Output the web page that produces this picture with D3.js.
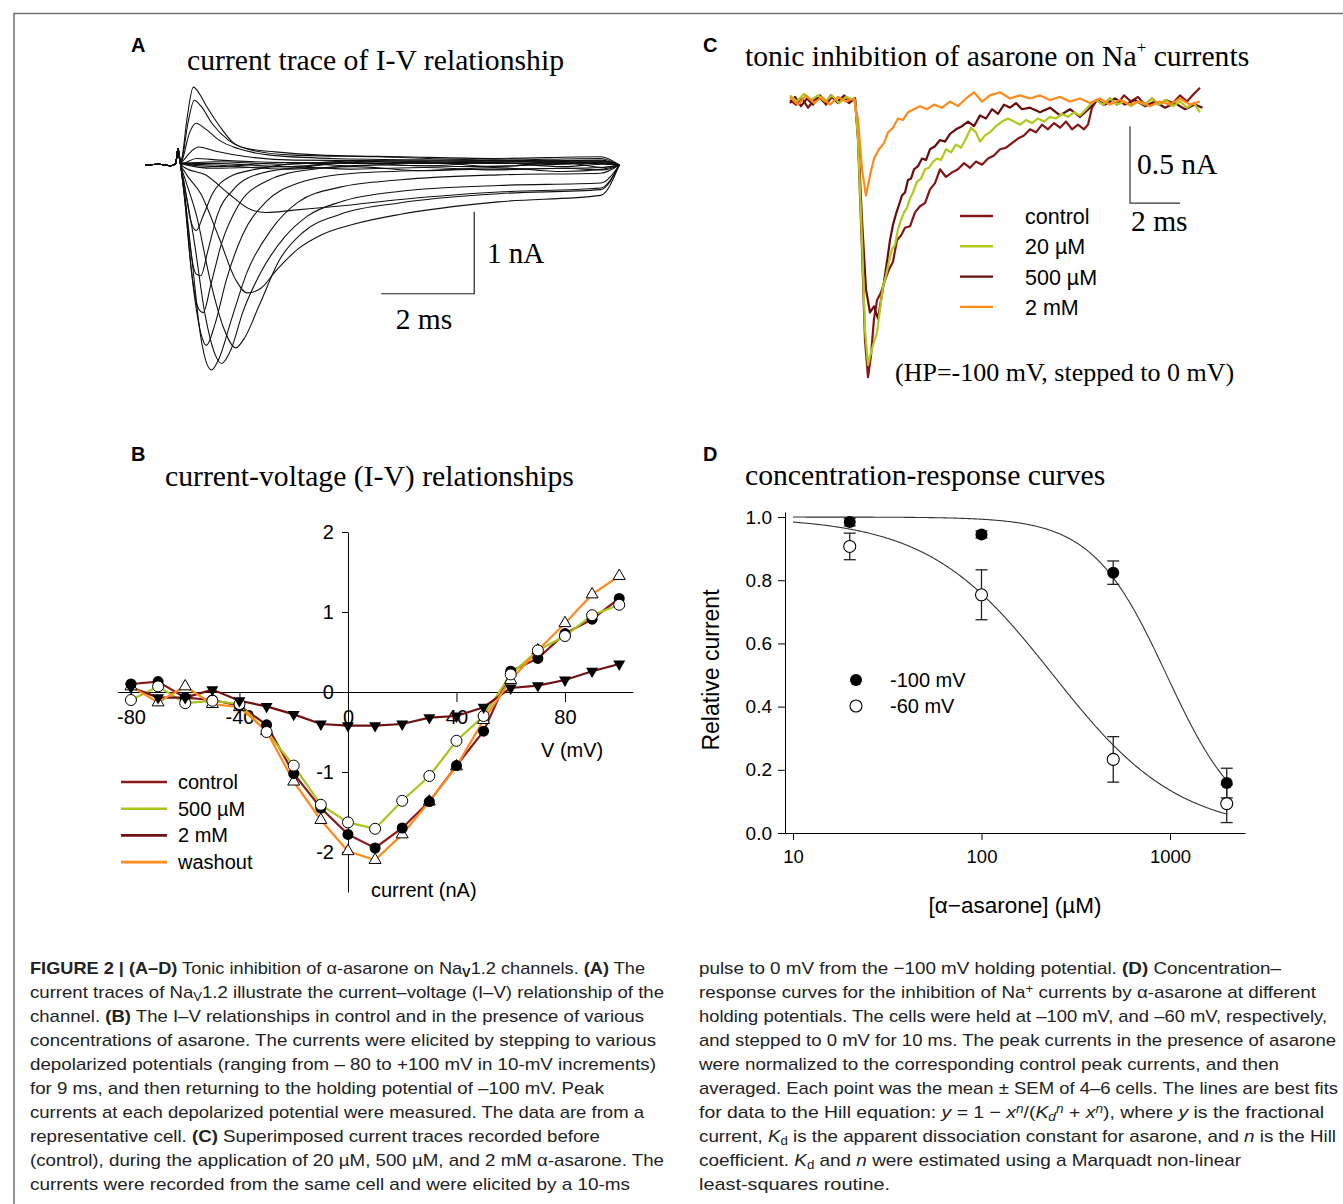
<!DOCTYPE html>
<html>
<head>
<meta charset="utf-8">
<script src="https://cdn.jsdelivr.net/npm/d3@7"></script>
<style>
  body { margin: 0; background: #fff; }
</style>
</head>
<body>
<svg id="fig" width="1343" height="1204"></svg>
<script>
const serif = "'Liberation Serif','Times New Roman',serif";
const sans = "'Liberation Sans',Arial,sans-serif";
const capFont = "'Liberation Sans Narrow','Arial Narrow','Liberation Sans',Arial,sans-serif";

// ---------- A: current sweeps, [ms, nA] ----------
const holdA = [[0, 0], [0.3, 0.01], [0.55, -0.01], [0.66, 0.02], [0.71, 0.2], [0.76, 0.02]];
const sweepsA = [
  // -80 .. -40 mV, no current
  [[1.5, 0.02], [3, -0.02], [4.5, 0.03], [6, -0.01], [7.5, 0.03], [9, -0.02], [9.85, 0.01], [10.2, 0]],
  [[1.5, -0.02], [3, 0.03], [4.5, -0.01], [6, 0.04], [7.5, -0.02], [9, 0.03], [9.85, -0.03], [10.2, 0]],
  [[1.5, 0.04], [3, 0.01], [4.5, 0.05], [6, 0.02], [7.5, 0.06], [9, 0.02], [9.85, 0.04], [10.2, 0]],
  [[1.5, -0.04], [3, -0.02], [4.5, -0.05], [6, -0.03], [7.5, -0.06], [9, -0.04], [9.85, -0.06], [10.2, 0]],
  [[1.5, 0.0], [3, -0.05], [4.5, -0.02], [6, -0.07], [7.5, -0.03], [9, -0.08], [9.85, -0.05], [10.2, 0]],
  // -30 mV
  [[0.85, -0.03], [1.3, -0.12], [1.8, -0.35], [2.3, -0.55], [2.6, -0.58], [3.2, -0.55], [4.2, -0.5], [5.5, -0.42], [7.6, -0.33], [9.8, -0.28], [10.2, 0]],
  // -20 mV
  [[0.85, -0.08], [1.2, -0.35], [1.6, -0.9], [1.95, -1.4], [2.2, -1.56], [2.5, -1.5], [2.8, -1.3], [3.3, -1.02], [3.8, -0.85], [4.5, -0.72], [5.5, -0.6], [7.6, -0.45], [9.8, -0.37], [10.2, 0]],
  // -10 mV
  [[0.85, -0.15], [1.1, -0.6], [1.4, -1.4], [1.7, -2.0], [1.95, -2.23], [2.15, -2.1], [2.45, -1.72], [2.9, -1.15], [3.4, -0.82], [4.2, -0.6], [5.5, -0.46], [7.6, -0.35], [9.8, -0.3], [10.2, 0]],
  // 0 mV
  [[0.85, -0.25], [1.05, -0.9], [1.3, -1.85], [1.5, -2.3], [1.65, -2.42], [1.85, -2.25], [2.1, -1.8], [2.5, -1.3], [3, -0.88], [3.5, -0.62], [4.2, -0.45], [5.5, -0.32], [7.6, -0.25], [9.8, -0.22], [10.2, 0]],
  // 10 mV
  [[0.85, -0.35], [1.0, -1.1], [1.2, -2.1], [1.43, -2.5], [1.6, -2.35], [1.85, -1.9], [2.2, -1.3], [2.7, -0.8], [3.3, -0.45], [4.2, -0.27], [5.5, -0.18], [7.6, -0.12], [9.8, -0.1], [10.2, 0]],
  // 20 mV
  [[0.85, -0.4], [1.0, -1.3], [1.2, -2.05], [1.32, -2.2], [1.5, -1.95], [1.75, -1.4], [2.1, -0.85], [2.6, -0.45], [3.3, -0.22], [4.5, -0.1], [6.5, -0.06], [9.8, -0.03], [10.2, 0]],
  // 30 mV
  [[0.85, -0.4], [1.0, -1.3], [1.15, -1.75], [1.25, -1.8], [1.42, -1.45], [1.65, -0.95], [2.0, -0.5], [2.6, -0.2], [3.5, -0.06], [5, 0], [7, -0.02], [9.8, 0.02], [10.2, 0]],
  // 40 mV
  [[0.85, -0.35], [0.97, -1.0], [1.1, -1.33], [1.2, -1.35], [1.35, -1.05], [1.55, -0.62], [1.9, -0.3], [2.5, -0.1], [3.5, -0.02], [5, 0.05], [7, 0.03], [9.8, 0.06], [10.2, 0]],
  // 50 mV
  [[0.85, -0.25], [0.97, -0.65], [1.1, -0.8], [1.25, -0.62], [1.45, -0.35], [1.8, -0.15], [2.4, -0.05], [3.5, 0.02], [5, 0.02], [7, 0.04], [9.8, 0.03], [10.2, 0]],
  // 60 .. 100 mV, outward
  [[0.8, 0.02], [1.1, 0.08], [1.6, 0.06], [3, 0.03], [6, 0.02], [9.8, 0.02], [10.2, 0]],
  [[0.8, 0.04], [1.0, 0.17], [1.15, 0.22], [1.5, 0.17], [2.2, 0.1], [3.2, 0.06], [6, 0.05], [9.8, 0.04], [10.2, 0]],
  [[0.8, 0.06], [0.95, 0.38], [1.1, 0.51], [1.3, 0.44], [1.6, 0.3], [2.0, 0.2], [2.7, 0.12], [4, 0.08], [6.5, 0.06], [9.8, 0.05], [10.2, 0]],
  [[0.8, 0.08], [0.92, 0.5], [1.06, 0.79], [1.2, 0.72], [1.45, 0.5], [1.8, 0.3], [2.3, 0.18], [3.2, 0.12], [5, 0.1], [7.5, 0.06], [9.8, 0.08], [10.2, 0]],
  [[0.8, 0.1], [0.9, 0.55], [1.04, 0.95], [1.18, 0.86], [1.33, 0.71], [1.61, 0.47], [1.9, 0.27], [2.2, 0.2], [2.8, 0.16], [3.8, 0.12], [5.5, 0.1], [7.5, 0.08], [9.8, 0.1], [10.2, 0]]
];
const barA = [7.08, -1.57];   // corner of the 2 ms / 1 nA bar

// ---------- C: currents at 0 mV, [ms, nA] ----------
const cControl = [[0, 0], [0.24, -0.03], [0.48, 0.01], [0.72, -0.05], [0.96, 0], [1.2, 0.03], [1.44, -0.03], [1.68, 0.02], [1.92, -0.02], [2.16, 0.03], [2.4, 0], [2.6, 0.01],
  [2.72, -0.26], [2.88, -0.97], [3.0, -1.56], [3.12, -1.8], [3.24, -1.66], [3.36, -1.42], [3.48, -1.3], [3.64, -1.25], [3.8, -1.17], [3.96, -1.1], [4.12, -1.05], [4.28, -0.91], [4.44, -0.88], [4.6, -0.83], [4.8, -0.82], [5.0, -0.73], [5.2, -0.69], [5.4, -0.67], [5.6, -0.58], [5.8, -0.54], [6.0, -0.45], [6.24, -0.5], [6.48, -0.47], [6.72, -0.45], [6.96, -0.41], [7.2, -0.44], [7.44, -0.4], [7.68, -0.42], [7.92, -0.38], [8.16, -0.36], [8.4, -0.32], [8.64, -0.31], [8.88, -0.28], [9.12, -0.25], [9.36, -0.23], [9.6, -0.19], [9.84, -0.21], [10.08, -0.16], [10.32, -0.19], [10.56, -0.15], [10.8, -0.18], [11.04, -0.14], [11.28, -0.19], [11.52, -0.16], [11.76, -0.19], [11.92, -0.16], [12.08, -0.05], [12.28, 0], [12.52, -0.03], [12.8, 0.01], [13.08, -0.03], [13.36, 0.03], [13.64, -0.01], [13.92, 0.02], [14.2, -0.03], [14.48, 0.01], [14.76, -0.03], [15.04, 0], [15.32, -0.02], [15.6, 0.03], [15.88, -0.01], [16.16, 0.04], [16.4, 0.08]];
const c20uM = [[0, 0.03], [0.28, -0.01], [0.56, 0.04], [0.84, 0], [1.12, 0.03], [1.4, -0.01], [1.68, 0.03], [1.96, -0.02], [2.24, 0.02], [2.6, 0],
  [2.72, -0.25], [2.88, -0.91], [3.0, -1.49], [3.12, -1.72], [3.24, -1.64], [3.36, -1.57], [3.48, -1.51], [3.6, -1.36], [3.72, -1.21], [3.84, -1.14], [3.96, -1.05], [4.08, -0.97], [4.2, -0.94], [4.32, -0.84], [4.44, -0.78], [4.56, -0.73], [4.68, -0.7], [4.8, -0.64], [4.92, -0.6], [5.08, -0.53], [5.24, -0.51], [5.4, -0.45], [5.56, -0.44], [5.72, -0.4], [5.88, -0.38], [6.04, -0.39], [6.24, -0.32], [6.44, -0.34], [6.64, -0.29], [6.84, -0.31], [7.04, -0.25], [7.24, -0.18], [7.44, -0.21], [7.6, -0.27], [7.8, -0.23], [8.0, -0.21], [8.24, -0.17], [8.48, -0.14], [8.72, -0.12], [8.96, -0.14], [9.2, -0.16], [9.44, -0.13], [9.68, -0.15], [9.92, -0.12], [10.16, -0.14], [10.4, -0.11], [10.64, -0.12], [10.88, -0.09], [11.12, -0.11], [11.36, -0.08], [11.6, -0.1], [11.84, -0.06], [12.0, -0.03], [12.24, 0], [12.52, -0.03], [12.8, 0.01], [13.08, -0.03], [13.36, -0.01], [13.64, -0.04], [13.92, -0.01], [14.2, -0.03], [14.48, 0.01], [14.76, -0.03], [15.04, 0], [15.32, -0.04], [15.6, -0.01], [15.88, -0.05], [16.16, -0.02], [16.4, -0.08]];
const c500uM = [[0, -0.02], [0.2, 0.02], [0.44, -0.04], [0.68, 0.01], [0.92, -0.03], [1.16, 0.02], [1.4, -0.02], [1.64, 0.03], [1.88, -0.01], [2.12, 0.02], [2.36, -0.02], [2.6, 0.01],
  [2.72, -0.23], [2.88, -0.78], [3.04, -1.23], [3.2, -1.38], [3.36, -1.34], [3.52, -1.42], [3.64, -1.3], [3.76, -1.18], [3.88, -1.05], [4.0, -0.91], [4.12, -0.81], [4.24, -0.74], [4.36, -0.68], [4.48, -0.62], [4.6, -0.6], [4.72, -0.52], [4.84, -0.51], [4.96, -0.45], [5.12, -0.43], [5.28, -0.38], [5.44, -0.39], [5.6, -0.32], [5.8, -0.3], [6.0, -0.26], [6.2, -0.27], [6.4, -0.22], [6.64, -0.19], [6.88, -0.17], [7.12, -0.14], [7.36, -0.17], [7.6, -0.1], [7.84, -0.12], [8.08, -0.06], [8.32, -0.09], [8.56, -0.03], [8.8, -0.05], [9.04, -0.02], [9.28, -0.06], [9.6, -0.05], [10.0, -0.08], [10.4, -0.05], [10.8, -0.1], [11.2, -0.06], [11.6, -0.11], [12.0, -0.05], [12.28, 0], [12.6, -0.03], [13.0, 0.01], [13.4, -0.03], [13.8, 0], [14.2, -0.04], [14.6, -0.01], [15.0, -0.05], [15.4, -0.02], [15.8, -0.06], [16.2, -0.03], [16.5, -0.05]];
const c2mM = [[0, 0.02], [0.32, -0.03], [0.64, 0.03], [0.96, -0.02], [1.28, 0.02], [1.6, -0.03], [1.92, 0.02], [2.24, -0.01], [2.56, 0.01],
  [2.72, -0.13], [2.88, -0.45], [3.04, -0.62], [3.2, -0.49], [3.36, -0.38], [3.56, -0.32], [3.76, -0.28], [3.92, -0.21], [4.12, -0.18], [4.32, -0.12], [4.52, -0.13], [4.72, -0.08], [4.96, -0.06], [5.2, -0.04], [5.48, -0.06], [5.76, -0.03], [6.08, -0.05], [6.4, -0.01], [6.72, -0.04], [7.04, 0.01], [7.36, 0.05], [7.68, -0.01], [8.0, 0.03], [8.4, 0.05], [8.8, 0.01], [9.2, 0.03], [9.6, 0.01], [10.0, 0.03], [10.4, 0], [10.8, 0.02], [11.2, -0.01], [11.6, 0.01], [12.0, -0.02], [12.4, 0.01], [12.8, -0.03], [13.2, 0], [13.6, -0.03], [14.0, -0.01], [14.4, -0.04], [14.8, -0.01], [15.2, -0.03], [15.6, 0.01], [16.0, -0.03], [16.4, -0.01]];
const barC = [13.6, -0.67];
const cLabels = ["control", "20 \u00b5M", "500 \u00b5M", "2 mM"];
const cColors = ["#841616", "#b0c91c", "#6a0c0c", "#ff8a1c"];

// ---------- B: I-V ----------
const ivVolts = [-80, -70, -60, -50, -40, -30, -20, -10, 0, 10, 20, 30, 40, 50, 60, 70, 80, 90, 100];
const ivControl = [0.10, 0.13, -0.07, -0.10, -0.17, -0.41, -1.02, -1.45, -1.78, -1.95, -1.70, -1.37, -0.92, -0.49, 0.26, 0.42, 0.73, 0.91, 1.17];
const iv500uM = [-0.10, 0.07, -0.14, -0.11, -0.15, -0.50, -0.92, -1.41, -1.63, -1.71, -1.36, -1.05, -0.61, -0.30, 0.22, 0.52, 0.70, 0.96, 1.09];
const iv2mM = [0.06, -0.07, -0.07, 0.03, -0.11, -0.18, -0.28, -0.40, -0.42, -0.42, -0.40, -0.32, -0.30, -0.19, 0.05, 0.08, 0.15, 0.26, 0.35];
const ivWashout = [0.07, -0.13, 0.07, -0.15, -0.19, -0.49, -1.12, -1.60, -1.99, -2.10, -1.78, -1.37, -0.93, -0.35, 0.15, 0.52, 0.86, 1.22, 1.45];
const bLabels = ["control", "500 \u00b5M", "2 mM", "washout"];
const bColors = ["#8a1a1a", "#abc41c", "#701010", "#ff8a1c"];

// ---------- D: concentration-response ----------
const conc = [20, 100, 500, 2000];
const rel100 = [0.984, 0.945, 0.824, 0.158];
const sem100 = [0.012, 0.011, 0.037, 0.047];
const rel60 = [0.907, 0.754, 0.233, 0.093];
const sem60 = [0.042, 0.079, 0.072, 0.06];
const hill100 = [960, 2.2];   // Kd (uM), n
const hill60 = [240, 1.3];

const svg = d3.select("#fig");

// frame
svg.append("path").attr("d", "M14,1204 V13.5 H1343").attr("fill", "none")
  .attr("stroke", "#707070").attr("stroke-width", 1.5);

function txt(x, y, s, size, fam, extra) {
  const t = svg.append("text").attr("x", x).attr("y", y).attr("font-size", size)
    .attr("font-family", fam).attr("fill", "#000").text(s);
  if (extra) extra(t);
  return t;
}
const bold = t => t.attr("font-weight", 700);
const titleSize = 29.7;

function styleAxis(g, size) {
  g.attr("font-family", sans).attr("font-size", size);
  g.selectAll("path,line").attr("stroke", "#000").attr("stroke-width", 1);
  g.selectAll("text").attr("fill", "#000");
}

// ================= Panel A =================
txt(131, 52, "A", 20, sans, bold);
txt(187, 70, "current trace of I-V relationship", titleSize, serif);

const xA = d3.scaleLinear().domain([0, 10.2]).range([145, 619.3]);
const yA = d3.scaleLinear().domain([-2.5, 1]).range([370, 83]);
const lineA = d3.line().x(d => xA(d[0])).y(d => yA(d[1])).curve(d3.curveMonotoneX);

svg.append("g").selectAll("path").data(sweepsA).join("path")
  .attr("d", d => lineA(holdA.concat(d)))
  .attr("fill", "none").attr("stroke", "#111").attr("stroke-width", 1.1);

svg.append("path")
  .attr("d", `M${xA(barA[0] - 2)},${yA(barA[1])} H${xA(barA[0])} V${yA(barA[1] + 1)}`)
  .attr("fill", "none").attr("stroke", "#222").attr("stroke-width", 1.2);
txt(487, 263, "1 nA", 29, serif);
txt(424, 329, "2 ms", 29.5, serif, t => t.attr("text-anchor", "middle"));

// ================= Panel C =================
txt(703, 52, "C", 20, sans, bold);
const titleC = txt(745, 66, "tonic inhibition of asarone on Na", titleSize, serif);
titleC.append("tspan").attr("font-size", 17).attr("dy", -13).text("+");
titleC.append("tspan").attr("dy", 13).text(" currents");

const xC = d3.scaleLinear().domain([0, 16.5]).range([790, 1202.5]);
const yC = d3.scaleLinear().domain([-1.8, 0]).range([377.2, 100]);
const lineC = d3.line().x(d => xC(d[0])).y(d => yC(d[1]));

const tracesC = [cControl, c500uM, c20uM, c2mM];
const traceColors = [cColors[0], cColors[2], cColors[1], cColors[3]];
svg.append("g").selectAll("path").data(tracesC).join("path")
  .attr("d", lineC)
  .attr("fill", "none").attr("stroke", (d, i) => traceColors[i])
  .attr("stroke-width", 2.2).attr("stroke-linejoin", "round");

svg.append("path")
  .attr("d", `M${xC(barC[0])},${yC(barC[1] + 0.5)} V${yC(barC[1])} H${xC(barC[0] + 2)}`)
  .attr("fill", "none").attr("stroke", "#333").attr("stroke-width", 1.2);
txt(1137, 174, "0.5 nA", 29.5, serif);
txt(1131, 231, "2 ms", 29.5, serif);

const legC = svg.append("g");
cLabels.forEach((lab, i) => {
  const y = 216 + i * 30.3;
  legC.append("line").attr("x1", 960).attr("x2", 993).attr("y1", y).attr("y2", y)
    .attr("stroke", cColors[i]).attr("stroke-width", 2.4);
  legC.append("text").attr("x", 1025).attr("y", y + 8).attr("font-family", sans)
    .attr("font-size", 21.5).text(lab);
});
txt(895, 381, "(HP=-100 mV, stepped to 0 mV)", 26, serif);

// ================= Panel B =================
txt(131, 461, "B", 20, sans, bold);
txt(165, 486, "current-voltage (I-V) relationships", titleSize, serif);

const xB = d3.scaleLinear().domain([-85, 105]).range([117.4, 632.8]);
const yB = d3.scaleLinear().domain([-2.5, 2]).range([892, 532]);

const gxB = svg.append("g").attr("transform", `translate(0,${yB(0)})`)
  .call(d3.axisBottom(xB).tickValues([-80, -40, 0, 40, 80]).tickFormat(d => String(d))
    .tickSize(10).tickSizeOuter(0).tickPadding(8));
styleAxis(gxB, 20);
const gyB = svg.append("g").attr("transform", `translate(${xB(0)},0)`)
  .call(d3.axisLeft(yB).tickValues([-2, -1, 0, 1, 2]).tickFormat(d => String(d))
    .tickSize(6).tickSizeOuter(0).tickPadding(8));
styleAxis(gyB, 20);

const seriesB = [ivControl, iv500uM, iv2mM, ivWashout];
const lineB = d3.line().x((d, i) => xB(ivVolts[i])).y(d => yB(d));
svg.append("g").selectAll("path").data(seriesB).join("path")
  .attr("d", lineB).attr("fill", "none")
  .attr("stroke", (d, i) => bColors[i]).attr("stroke-width", 2.2);

const markB = svg.append("g");
const upTri = d3.symbol().type(d3.symbolTriangle).size(62);
// washout: open up-triangles
markB.selectAll(".wash").data(ivWashout).join("path").attr("class", "wash")
  .attr("d", upTri).attr("transform", (d, i) => `translate(${xB(ivVolts[i])},${yB(d)})`)
  .attr("fill", "#fff").attr("stroke", "#000").attr("stroke-width", 1);
// control: filled circles
markB.selectAll(".ctl").data(ivControl).join("circle").attr("class", "ctl")
  .attr("cx", (d, i) => xB(ivVolts[i])).attr("cy", d => yB(d)).attr("r", 5.5).attr("fill", "#000");
// 500 uM: open circles
markB.selectAll(".c500").data(iv500uM).join("circle").attr("class", "c500")
  .attr("cx", (d, i) => xB(ivVolts[i])).attr("cy", d => yB(d)).attr("r", 5.5)
  .attr("fill", "#fff").attr("stroke", "#000").attr("stroke-width", 1);
// 2 mM: filled down-triangles
markB.selectAll(".c2").data(iv2mM).join("path").attr("class", "c2")
  .attr("d", upTri).attr("transform", (d, i) => `translate(${xB(ivVolts[i])},${yB(d)}) rotate(180)`)
  .attr("fill", "#000");

txt(541, 757, "V (mV)", 20, sans);
txt(371, 897, "current (nA)", 20, sans);

const legB = svg.append("g");
bLabels.forEach((lab, i) => {
  const y = 782 + i * 26.7;
  legB.append("line").attr("x1", 121).attr("x2", 167).attr("y1", y).attr("y2", y)
    .attr("stroke", bColors[i]).attr("stroke-width", 2.6);
  legB.append("text").attr("x", 178).attr("y", y + 7).attr("font-family", sans)
    .attr("font-size", 20).text(lab);
});

// ================= Panel D =================
txt(703, 461, "D", 20, sans, bold);
txt(745, 485, "concentration-response curves", titleSize, serif);

const xD = d3.scaleLog().domain([9.07, 2500]).range([785, 1245]);
const yD = d3.scaleLinear().domain([0, 1.016]).range([833, 512]);

const gxD = svg.append("g").attr("transform", `translate(0,${yD(0)})`)
  .call(d3.axisBottom(xD).tickValues([10, 100, 1000]).tickFormat(d3.format("d"))
    .tickSize(7).tickSizeOuter(0).tickPadding(10));
styleAxis(gxD, 18.5);
const gyD = svg.append("g").attr("transform", `translate(${xD.range()[0]},0)`)
  .call(d3.axisLeft(yD).tickValues([0, 0.2, 0.4, 0.6, 0.8, 1.0]).tickFormat(d3.format(".1f"))
    .tickSize(7).tickSizeOuter(0).tickPadding(6));
styleAxis(gyD, 19);

const fitConc = d3.range(1, 3.302, 0.005).map(e => Math.pow(10, e));
const lineD = d3.line().x(d => xD(d[0])).y(d => yD(d[1]));
[hill100, hill60].forEach(([kd, n]) => {
  svg.append("path")
    .attr("d", lineD(fitConc.map(c => [c, 1 / (1 + Math.pow(c / kd, n))])))
    .attr("fill", "none").attr("stroke", "#333").attr("stroke-width", 1.1);
});

function errBars(vals, sem) {
  const g = svg.append("g").attr("stroke", "#222").attr("stroke-width", 1.3);
  vals.forEach((v, i) => {
    const x = xD(conc[i]), y1 = yD(v - sem[i]), y2 = yD(v + sem[i]);
    g.append("line").attr("x1", x).attr("x2", x).attr("y1", y1).attr("y2", y2);
    g.append("line").attr("x1", x - 6).attr("x2", x + 6).attr("y1", y1).attr("y2", y1);
    g.append("line").attr("x1", x - 6).attr("x2", x + 6).attr("y1", y2).attr("y2", y2);
  });
}
errBars(rel60, sem60);
errBars(rel100, sem100);
svg.append("g").selectAll("circle").data(rel60).join("circle")
  .attr("cx", (d, i) => xD(conc[i])).attr("cy", d => yD(d)).attr("r", 6)
  .attr("fill", "#fff").attr("stroke", "#000").attr("stroke-width", 1.1);
svg.append("g").selectAll("circle").data(rel100).join("circle")
  .attr("cx", (d, i) => xD(conc[i])).attr("cy", d => yD(d)).attr("r", 6).attr("fill", "#000");

svg.append("circle").attr("cx", 856).attr("cy", 680).attr("r", 6).attr("fill", "#000");
svg.append("circle").attr("cx", 856).attr("cy", 706).attr("r", 6).attr("fill", "#fff")
  .attr("stroke", "#000").attr("stroke-width", 1.1);
txt(890, 687, "-100 mV", 20, sans);
txt(890, 713, "-60 mV", 20, sans);

svg.append("text").attr("transform", "translate(719,670) rotate(-90)")
  .attr("text-anchor", "middle").attr("font-family", sans).attr("font-size", 23)
  .text("Relative current");
txt(1015, 913, "[\u03b1\u2212asarone] (\u00b5M)", 22.5, sans, t => t.attr("text-anchor", "middle"));

// ================= caption =================
const capLeft = [
  [["FIGURE 2 | (A\u2013D)", "B"], [" Tonic inhibition of \u03b1-asarone on Na"], ["V", "B_"], ["1.2 channels. "], ["(A)", "B"], [" The"]],
  [["current traces of Na"], ["V", "_"], ["1.2 illustrate the current\u2013voltage (I\u2013V) relationship of the"]],
  [["channel. "], ["(B)", "B"], [" The I\u2013V relationships in control and in the presence of various"]],
  "concentrations of asarone. The currents were elicited by stepping to various",
  "depolarized potentials (ranging from \u2013 80 to +100 mV in 10-mV increments)",
  "for 9 ms, and then returning to the holding potential of \u2013100 mV. Peak",
  "currents at each depolarized potential were measured. The data are from a",
  [["representative cell. "], ["(C)", "B"], [" Superimposed current traces recorded before"]],
  "(control), during the application of 20 \u00b5M, 500 \u00b5M, and 2 mM \u03b1-asarone. The",
  "currents were recorded from the same cell and were elicited by a 10-ms"
];
const capLeftLen = [615, 634, 614, 626, 626, 574, 614, 570, 634, 600];
const capRight = [
  [["pulse to 0 mV from the \u2212100 mV holding potential. "], ["(D)", "B"], [" Concentration\u2013"]],
  [["response curves for the inhibition of Na"], ["+", "^"], [" currents by \u03b1-asarone at different"]],
  "holding potentials. The cells were held at \u2013100 mV, and \u201360 mV, respectively,",
  "and stepped to 0 mV for 10 ms. The peak currents in the presence of asarone",
  "were normalized to the corresponding control peak currents, and then",
  "averaged. Each point was the mean \u00b1 SEM of 4\u20136 cells. The lines are best fits",
  [["for data to the Hill equation: "], ["y", "I"], [" = 1 \u2212 "], ["x", "I"], ["n", "I^"], ["/("], ["K", "I"], ["d", "I_"], ["n", "I^"], [" + "], ["x", "I"], ["n", "I^"], ["), where "], ["y", "I"], [" is the fractional"]],
  [["current, "], ["K", "I"], ["d", "_"], [" is the apparent dissociation constant for asarone, and "], ["n", "I"], [" is the Hill"]],
  [["coefficient. "], ["K", "I"], ["d", "_"], [" and "], ["n", "I"], [" were estimated using a Marquadt non-linear"]],
  "least-squares routine."
];
const capRightLen = [582, 617, 628, 637, 580, 639, 625, 637, 542, 191];

function captionLine(x, y, len, parts) {
  const t = svg.append("text").attr("x", x).attr("y", y)
    .attr("font-family", capFont).attr("font-size", 17).attr("fill", "#222")
    .attr("textLength", len).attr("lengthAdjust", "spacingAndGlyphs");
  (typeof parts === "string" ? [[parts]] : parts).forEach(([s, k = ""]) => {
    const ts = t.append("tspan").text(s);
    if (k.includes("B")) ts.attr("font-weight", 700);
    if (k.includes("I")) ts.attr("font-style", "italic");
    if (k.includes("_")) ts.attr("baseline-shift", "-22%").attr("font-size", 12);
    if (k.includes("^")) ts.attr("baseline-shift", "40%").attr("font-size", 12);
  });
}
capLeft.forEach((p, i) => captionLine(30, 974 + i * 24, capLeftLen[i], p));
capRight.forEach((p, i) => captionLine(699, 974 + i * 24, capRightLen[i], p));
</script>
</body>
</html>
